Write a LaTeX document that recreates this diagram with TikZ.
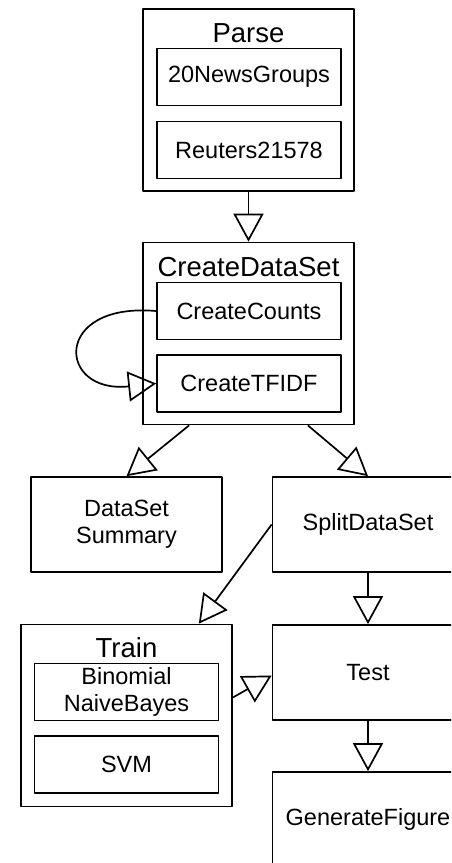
\documentclass[tikz,border=0pt]{standalone}
\usepackage{fontspec}
\setmainfont{Liberation Sans}
\usepackage{tikz}
\usetikzlibrary{arrows.meta,calc}

\begin{document}
\begin{tikzpicture}[x=1pt,y=-1pt,line join=round,
  box/.style={draw,line width=1.7pt,inner sep=0pt,align=center,
    font=\fontsize{23.5}{27}\selectfont},
  group/.style={box,minimum width=211pt,minimum height=182pt},
  part/.style={box,minimum width=184pt,minimum height=57pt},
  task/.style={box,minimum width=191pt,minimum height=95pt},
  title/.style={inner sep=0pt,font=\fontsize{27.5}{30}\selectfont},
  flow/.style={line width=1.7pt,-{Triangle[open,length=28pt,width=30pt,line width=1.7pt]}}]
  \clip (0,0) rectangle (451,863);
  \useasboundingbox (0,0) rectangle (451,863);
  \node[group] (parse) at (248.5,100) {};
  \node[title] (parseT) at (248.5,33) {Parse};
  \node[part] (news) at (249,77) {20NewsGroups};
  \node[part] (reuters) at (249,150) {Reuters21578};
  \node[group] (cds) at (248.5,333.5) {};
  \node[title] (cdsT) at (248.5,267) {CreateDataSet};
  \node[part] (counts) at (249,311) {CreateCounts};
  \node[part] (tfidf) at (249,383.5) {CreateTFIDF};
  \node[task] (dss) at (126.5,524.5) {DataSet\\Summary};
  \node[task] (split) at (368,524.5) {SplitDataSet};
  \node[group] (train) at (126.5,715.5) {};
  \node[title] (trainT) at (126.5,648) {Train};
  \node[part] (nb) at (126.5,692) {Binomial\\NaiveBayes};
  \node[part] (svm) at (126.5,764.5) {SVM};
  \node[task] (test) at (368,672.5) {Test};
  \node[task] (fig) at (368,819.5) {GenerateFigure};
  \draw[flow] (parse.south) -- (cds.north);
  \draw[flow] (counts.west) .. controls (52,302) and (57,394) .. (tfidf.west);
  \draw[flow] ($(cds.south west)+(47,0)$) -- (dss.north);
  \draw[flow] ($(cds.south east)+(-47,0)$) -- (split.north);
  \draw[flow] (split.west) -- ($(train.north east)+(-34,0)$);
  \draw[flow] (split.south) -- (test.north);
  \draw[flow] ($(train.east)+(0,-18)$) -- ($(test.west)+(0,3)$);
  \draw[flow] (test.south) -- (fig.north);
\end{tikzpicture}
\end{document}
